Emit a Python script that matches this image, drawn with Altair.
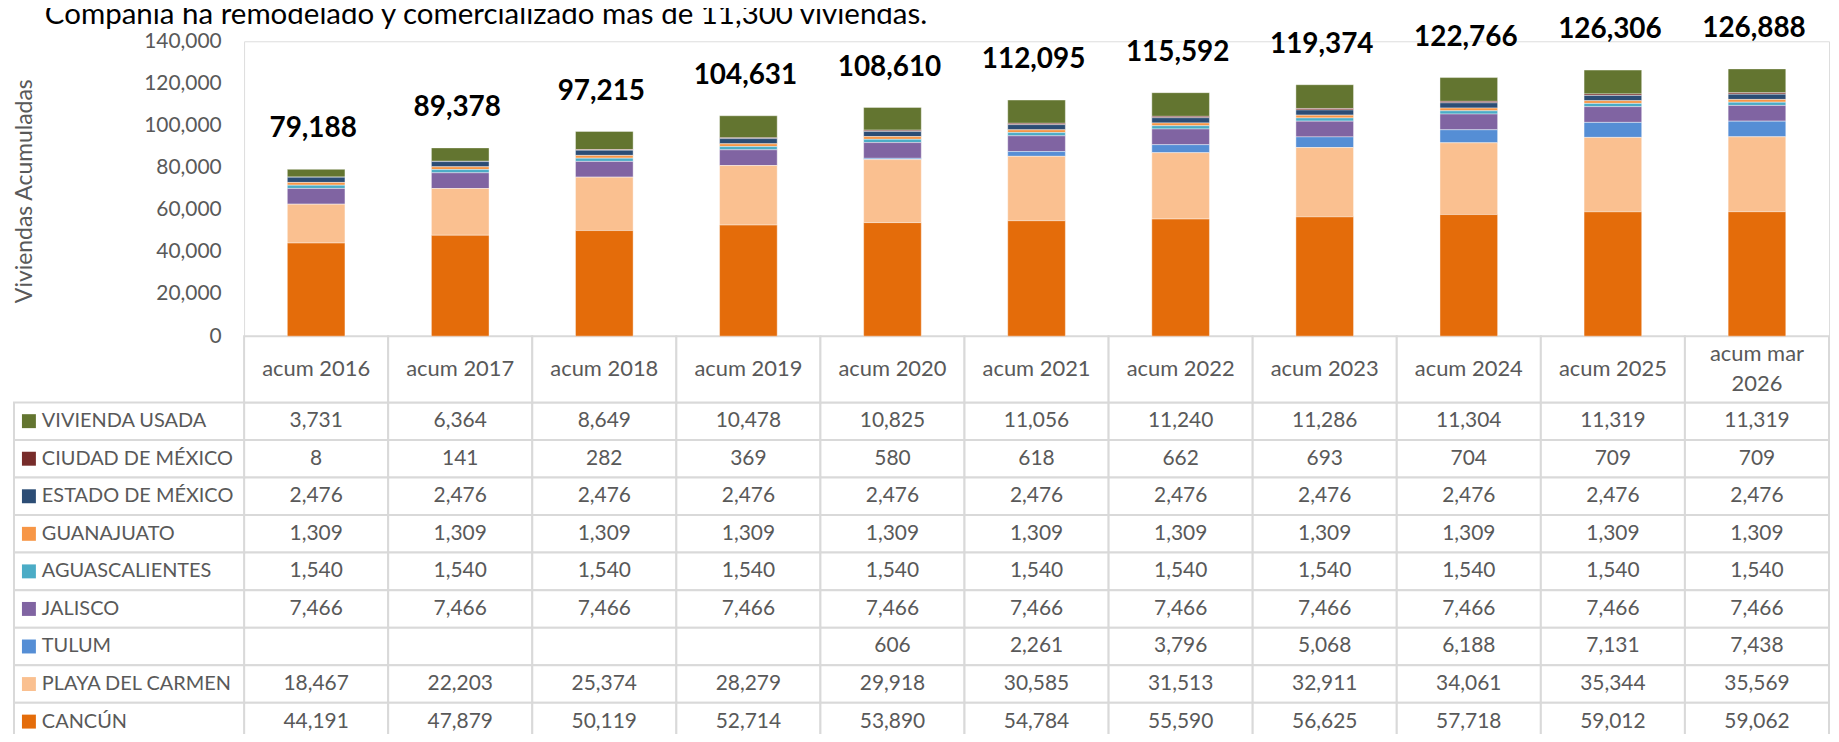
import altair as alt
import pandas as pd

TITLE = "Compañía ha remodelado y comercializado más de 11,300 viviendas."
Y_TITLE = "Viviendas Acumuladas"

CATEGORIES = ["acum 2016", "acum 2017", "acum 2018", "acum 2019", "acum 2020",
              "acum 2021", "acum 2022", "acum 2023", "acum 2024", "acum 2025",
              "acum mar 2026"]

REGIONS = ["VIVIENDA USADA", "CIUDAD DE MÉXICO", "ESTADO DE MÉXICO", "GUANAJUATO",
           "AGUASCALIENTES", "JALISCO", "TULUM", "PLAYA DEL CARMEN", "CANCÚN"]

COLORS = ["#637530", "#772C2A", "#2C4D75", "#F79646", "#4BACC6",
          "#8064A2", "#558ED5", "#FAC090", "#E46C0A"]

VIVIENDA_USADA = [3731, 6364, 8649, 10478, 10825, 11056, 11240, 11286, 11304, 11319, 11319]
CIUDAD_DE_MEXICO = [8, 141, 282, 369, 580, 618, 662, 693, 704, 709, 709]
ESTADO_DE_MEXICO = [2476, 2476, 2476, 2476, 2476, 2476, 2476, 2476, 2476, 2476, 2476]
GUANAJUATO = [1309, 1309, 1309, 1309, 1309, 1309, 1309, 1309, 1309, 1309, 1309]
AGUASCALIENTES = [1540, 1540, 1540, 1540, 1540, 1540, 1540, 1540, 1540, 1540, 1540]
JALISCO = [7466, 7466, 7466, 7466, 7466, 7466, 7466, 7466, 7466, 7466, 7466]
TULUM = [None, None, None, None, 606, 2261, 3796, 5068, 6188, 7131, 7438]
PLAYA_DEL_CARMEN = [18467, 22203, 25374, 28279, 29918, 30585, 31513, 32911, 34061, 35344, 35569]
CANCUN = [44191, 47879, 50119, 52714, 53890, 54784, 55590, 56625, 57718, 59012, 59062]

SERIES = [VIVIENDA_USADA, CIUDAD_DE_MEXICO, ESTADO_DE_MEXICO, GUANAJUATO,
          AGUASCALIENTES, JALISCO, TULUM, PLAYA_DEL_CARMEN, CANCUN]

Y_TICKS = [0, 20000, 40000, 60000, 80000, 100000, 120000, 140000]

rows = []
n = len(REGIONS)
for ri, (reg, vals) in enumerate(zip(REGIONS, SERIES)):
    for cat, v in zip(CATEGORIES, vals):
        rows.append({"cat": cat, "region": reg, "value": v, "stack": n - 1 - ri})
df = pd.DataFrame(rows)

hdr_df = pd.DataFrame({"cat": CATEGORIES,
                       "hdr": [c.replace("mar ", "mar\n") for c in CATEGORIES],
                       "hrow": ["h"] * len(CATEGORIES)})
lab_df = pd.DataFrame({"region": REGIONS})
title_df = pd.DataFrame({"t": [TITLE]})

# layout (pixels, relative to plot area)
W, H = 1591, 694
BAR_H = 296
HDR_BOTTOM = 362.5
ROW_H = 37.7
GRID = "#D9D9D9"
TXT = "#595959"
FONT = "Lato"

x_enc = alt.X("cat:N", scale=alt.Scale(domain=CATEGORIES, paddingInner=0, paddingOuter=0), axis=None)
yq = alt.Scale(domain=[0, 140000], range=[BAR_H, 0], nice=False)
y_h = alt.Y("hrow:N", scale=alt.Scale(domain=["h"], range=[BAR_H, HDR_BOTTOM], paddingInner=0, paddingOuter=0), axis=None)
y_r = alt.Y("region:N", scale=alt.Scale(domain=REGIONS, range=[HDR_BOTTOM, HDR_BOTTOM + n * ROW_H],
                                        paddingInner=0, paddingOuter=0), axis=None)
color = alt.Color("region:N", scale=alt.Scale(domain=REGIONS, range=COLORS), legend=None)

bars = alt.Chart(df).transform_filter("isValid(datum.value)").mark_bar(
    width=alt.RelativeBandSize(0.4), stroke="white", strokeWidth=0.8, strokeOpacity=0.5
).encode(
    x=x_enc,
    y=alt.Y("value:Q", stack="zero", scale=yq,
            axis=alt.Axis(values=Y_TICKS, labelExpr="format(datum.value, ',')", title=Y_TITLE,
                          grid=False, domain=False,
                          ticks=False, tickSize=0, labelPadding=23, labelFontSize=21,
                          labelColor=TXT, labelFont=FONT, titleFont=FONT, titleFontSize=23,
                          titleFontWeight="normal", titleColor=TXT, titleAngle=270,
                          titleX=-213, titleY=150, titleAlign="center",
                          titleBaseline="alphabetic")),
    color=color,
    order=alt.Order("stack:Q"),
)

totals = alt.Chart(df).transform_aggregate(total="sum(value)", groupby=["cat"]).mark_text(
    font=FONT, fontSize=28, fontWeight="bold", color="black", baseline="middle", dy=-40, dx=-3
).encode(
    x=x_enc,
    y=alt.Y("total:Q", scale=yq, axis=None),
    text=alt.Text("total:Q", format=","),
)

hdr_rect = alt.Chart(hdr_df).mark_rect(fill="white", stroke=GRID, strokeWidth=2).encode(x=x_enc, y=y_h)
hdr_text_1 = alt.Chart(hdr_df).transform_filter("indexof(datum.hdr, '\\n') < 0").mark_text(
    font=FONT, fontSize=22, color=TXT
).encode(x=x_enc, y=y_h, text="hdr:N")
hdr_text_2 = alt.Chart(hdr_df).transform_filter("indexof(datum.hdr, '\\n') >= 0").mark_text(
    font=FONT, fontSize=22, color=TXT, lineBreak="\n", lineHeight=30, dy=-15
).encode(x=x_enc, y=y_h, text="hdr:N")

cells = alt.Chart(df).mark_rect(fill="white", stroke=GRID, strokeWidth=2).encode(x=x_enc, y=y_r)
cell_text = alt.Chart(df).transform_filter("isValid(datum.value)").mark_text(
    font=FONT, fontSize=21, color=TXT
).encode(x=x_enc, y=y_r, text=alt.Text("value:Q", format=","))

lab_rect = alt.Chart(lab_df).mark_rect(fill="white", stroke=GRID, strokeWidth=2).encode(
    x=alt.value(-231), x2=alt.value(0), y=y_r)
squares = alt.Chart(lab_df).mark_square(size=196, opacity=1, filled=True).encode(
    x=alt.value(-216), y=y_r, color=color)
lab_text = alt.Chart(lab_df).mark_text(font=FONT, fontSize=20, color=TXT, align="left").encode(
    x=alt.value(-203), y=y_r, text="region:N")

title_txt = alt.Chart(title_df).mark_text(font=FONT, fontSize=29.6, color="black", align="left",
                                          baseline="alphabetic").encode(
    x=alt.value(-200), y=alt.value(-17), text="t:N")

chart = alt.layer(
    cells, hdr_rect, lab_rect, bars, totals, hdr_text_1, hdr_text_2, cell_text, squares,
    lab_text, title_txt
).resolve_scale(y="independent").properties(
    width=W, height=H,
    autosize=alt.AutoSizeParams(type="none"),
    padding={"left": 237, "top": 32, "right": 2, "bottom": 0},
).configure_view(stroke=None).configure(font=FONT)

chart.save("out.html", embed_options={"renderer": "svg", "actions": False})
